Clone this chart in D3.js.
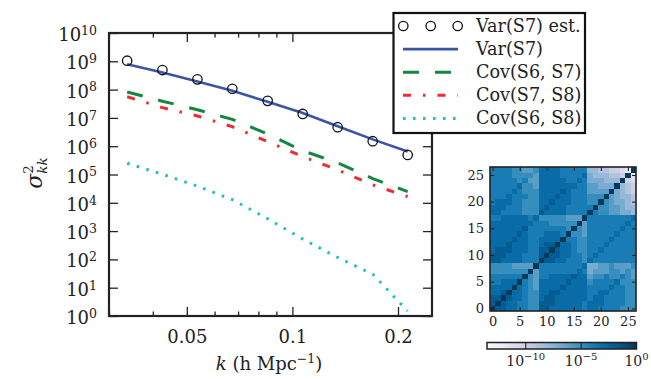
<!DOCTYPE html>
<html>
<head>
<meta charset="utf-8">
<script src="https://cdn.jsdelivr.net/npm/d3@7"></script>
<style>
  body { margin: 0; background: #fff; }
  svg { display: block; }
  text { font-family: "DejaVu Serif", serif; fill: #222; }
</style>
</head>
<body>
<svg id="chart" width="651" height="379"></svg>
<script>
// k bins (h/Mpc)
const kValues = [0.0338, 0.0426, 0.0536, 0.0674, 0.085, 0.107, 0.1346, 0.1694, 0.2131];

// series
const varEst  = [1.05e9, 4.9e8, 2.3e8, 1.07e8, 4.0e7, 1.38e7, 4.7e6, 1.5e6, 4.9e5];
const varS7   = [7.9e8, 4.0e8, 1.95e8, 9.1e7, 3.7e7, 1.5e7, 5.1e6, 1.74e6, 6.5e5];
const covS6S7 = [8.2e7, 3.9e7, 1.95e7, 8.9e6, 2.7e6, 6.9e5, 2.6e5, 7.2e4, 2.5e4];
const covS7S8 = [5.6e7, 2.3e7, 1.17e7, 4.9e6, 1.45e6, 4.3e5, 1.45e5, 4.3e4, 1.66e4];
const covS6S8 = [2.5e5, 1.02e5, 3.9e4, 1.29e4, 2.75e3, 525, 117, 30, 1.5];

const legendLabels = ["Var(S7) est.", "Var(S7)", "Cov(S6, S7)", "Cov(S7, S8)", "Cov(S6, S8)"];
const xTickValues = [0.05, 0.1, 0.2];
const xTickLabels = ["0.05", "0.1", "0.2"];
const yTickExps = [0, 1, 2, 3, 4, 5, 6, 7, 8, 9, 10];

// inset matrix, row 0 first (bottom row). each char = -log10(value), base 36
const matrixRows = [
  "022334455" + "223333334" + "334444555",
  "202334455" + "222333334" + "333444455",
  "220233455" + "322333333" + "433444455",
  "332033455" + "332233333" + "443344455",
  "333303456" + "333323333" + "444434455",
  "443330456" + "333332333" + "544443555",
  "444444056" + "443333233" + "655455456",
  "555555506" + "444444434" + "766655656",
  "555566660" + "444444443" + "776656665",
  "223333444" + "022334445" + "344444444",
  "222333444" + "202233445" + "434444444",
  "322233344" + "220233455" + "443444444",
  "333233344" + "322033455" + "444344444",
  "333323344" + "333304455" + "444434444",
  "333332344" + "433340556" + "444443444",
  "333333244" + "444445056" + "444444344",
  "333333334" + "445555506" + "444444434",
  "443333343" + "555556660" + "444444443",
  "334444555" + "233334444" + "045566778",
  "333444555" + "323334444" + "405566788",
  "433344555" + "332333444" + "550567789",
  "444344455" + "333233444" + "555067889",
  "444434555" + "333323444" + "66660789a",
  "444443556" + "333333344" + "66777089a",
  "444445466" + "333334434" + "7778880ab",
  "444455556" + "333344443" + "788899a0c",
  "444455665" + "333344444" + "8899aabc0"
];
const matrixTicks = [0, 5, 10, 15, 20, 25];
const colorbarTickExps = [-10, -5, 0];
const colorMinExp = -13.5;

const svg = d3.select("#chart");
const ink = "#222";

// ---------- main panel ----------
const plot = { left: 109, right: 432, top: 33, bottom: 316 };
const x = d3.scaleLog().domain([0.03, 0.25]).range([plot.left, plot.right]);
const y = d3.scaleLog().domain([1, 1e10]).range([plot.bottom, plot.top]);

const xMinor = x.ticks().filter(v => !xTickValues.some(m => Math.abs(m - v) < 1e-9));
const yMinor = y.ticks().filter(v => !yTickExps.some(e => Math.abs(Math.log10(v) - e) < 1e-9));
const yMajor = yTickExps.map(e => Math.pow(10, e));

svg.append("defs").append("clipPath").attr("id", "plotClip")
  .append("rect").attr("x", plot.left).attr("y", plot.top)
  .attr("width", plot.right - plot.left).attr("height", plot.bottom - plot.top);

function styleAxis(g) {
  g.select(".domain").remove();
  g.selectAll("line").attr("stroke", ink).attr("stroke-width", 1.3);
}

// bottom
svg.append("g").attr("transform", `translate(0,${plot.bottom})`)
  .call(d3.axisBottom(x).tickValues(xTickValues).tickSizeInner(-9).tickSizeOuter(0).tickPadding(14)
    .tickFormat((d, i) => xTickLabels[i]))
  .call(styleAxis)
  .call(g => g.selectAll("text").attr("font-size", 18).attr("font-family", "DejaVu Serif").attr("fill", ink));
svg.append("g").attr("transform", `translate(0,${plot.bottom})`)
  .call(d3.axisBottom(x).tickValues(xMinor).tickSizeInner(-4.5).tickSizeOuter(0).tickFormat(""))
  .call(styleAxis);
// top
svg.append("g").attr("transform", `translate(0,${plot.top})`)
  .call(d3.axisTop(x).tickValues(xTickValues).tickSizeInner(-9).tickSizeOuter(0).tickFormat(""))
  .call(styleAxis);
svg.append("g").attr("transform", `translate(0,${plot.top})`)
  .call(d3.axisTop(x).tickValues(xMinor).tickSizeInner(-4.5).tickSizeOuter(0).tickFormat(""))
  .call(styleAxis);
// left
svg.append("g").attr("transform", `translate(${plot.left},0)`)
  .call(d3.axisLeft(y).tickValues(yMajor).tickSizeInner(-9).tickSizeOuter(0).tickPadding(12))
  .call(styleAxis)
  .call(g => g.selectAll("text")
    .attr("font-size", 18).attr("font-family", "DejaVu Serif").attr("fill", ink).attr("dy", "0.42em")
    .each(function (d) {
      const t = d3.select(this);
      t.text("10");
      t.append("tspan").attr("dy", "-0.5em").attr("font-size", 12.5).text(Math.round(Math.log10(d)));
    }));
svg.append("g").attr("transform", `translate(${plot.left},0)`)
  .call(d3.axisLeft(y).tickValues(yMinor).tickSizeInner(-4.5).tickSizeOuter(0).tickFormat(""))
  .call(styleAxis);
// right
svg.append("g").attr("transform", `translate(${plot.right},0)`)
  .call(d3.axisRight(y).tickValues(yMajor).tickSizeInner(-9).tickSizeOuter(0).tickFormat(""))
  .call(styleAxis);
svg.append("g").attr("transform", `translate(${plot.right},0)`)
  .call(d3.axisRight(y).tickValues(yMinor).tickSizeInner(-4.5).tickSizeOuter(0).tickFormat(""))
  .call(styleAxis);

// series
const series = [
  { values: varS7,   color: "#3b54a5", width: 2.6, dash: null },
  { values: covS6S7, color: "#13873f", width: 3,   dash: "16,16" },
  { values: covS7S8, color: "#ee2b2e", width: 3,   dash: "8,12,2.5,12" },
  { values: covS6S8, color: "#21bfc3", width: 3,   dash: "2.6,7.4" }
];
const line = d3.line().x(d => x(d[0])).y(d => y(d[1]));
const lines = svg.append("g").attr("clip-path", "url(#plotClip)");
series.forEach(s => {
  lines.append("path")
    .datum(kValues.map((k, i) => [k, s.values[i]]))
    .attr("d", line)
    .attr("fill", "none")
    .attr("stroke", s.color)
    .attr("stroke-width", s.width)
    .attr("stroke-dasharray", s.dash);
});
lines.selectAll("circle.est")
  .data(kValues.map((k, i) => [k, varEst[i]]))
  .enter().append("circle")
  .attr("class", "est")
  .attr("cx", d => x(d[0])).attr("cy", d => y(d[1])).attr("r", 4.7)
  .attr("fill", "none").attr("stroke", "#111").attr("stroke-width", 1.3);

// frame
svg.append("rect")
  .attr("x", plot.left).attr("y", plot.top)
  .attr("width", plot.right - plot.left).attr("height", plot.bottom - plot.top)
  .attr("fill", "none").attr("stroke", ink).attr("stroke-width", 2.2);

// axis labels
const yLabel = svg.append("text")
  .attr("transform", "translate(42,173) rotate(-90)")
  .attr("text-anchor", "middle");
yLabel.append("tspan").attr("font-style", "italic").attr("font-size", 22).text("σ");
yLabel.append("tspan").attr("font-size", 13.5).attr("dy", -9).text("2");
yLabel.append("tspan").attr("font-size", 13.5).attr("font-style", "italic").attr("dx", -8.5).attr("dy", 14).text("kk");

const xLabel = svg.append("text")
  .attr("x", 269).attr("y", 370)
  .attr("text-anchor", "middle").attr("font-size", 18);
xLabel.append("tspan").attr("font-style", "italic").text("k");
xLabel.append("tspan").text(" (h Mpc");
xLabel.append("tspan").attr("font-size", 12.5).attr("dy", -7).text("−1");
xLabel.append("tspan").attr("dy", 7).text(")");

// legend
const legend = svg.append("g");
legend.append("rect")
  .attr("x", 393.5).attr("y", 13).attr("width", 191.5).attr("height", 120)
  .attr("fill", "#fff").attr("stroke", "#111").attr("stroke-width", 2.2);
const rowY = i => 26 + i * 23.1;
legend.selectAll("circle")
  .data([403.3, 430.7, 457.7])
  .enter().append("circle")
  .attr("cx", d => d).attr("cy", rowY(0)).attr("r", 4.7)
  .attr("fill", "none").attr("stroke", "#111").attr("stroke-width", 1.3);
series.forEach((s, i) => {
  legend.append("line")
    .attr("x1", 403).attr("x2", 458)
    .attr("y1", rowY(i + 1)).attr("y2", rowY(i + 1))
    .attr("stroke", s.color).attr("stroke-width", s.width)
    .attr("stroke-dasharray", s.dash);
});
legend.selectAll("text")
  .data(legendLabels)
  .enter().append("text")
  .attr("x", 476).attr("y", (d, i) => rowY(i) + 6)
  .attr("font-size", 17.6)
  .text(d => d);

// ---------- inset matrix ----------
const n = matrixRows.length;
const hm = { left: 490, right: 636, top: 167, bottom: 311 };
const mx = d3.scaleLinear().domain([-0.5, n - 0.5]).range([hm.left, hm.right]);
const my = d3.scaleLinear().domain([-0.5, n - 0.5]).range([hm.bottom, hm.top]);
const color = d3.scaleSequential(d3.interpolatePuBu).domain([colorMinExp, 0]);

const cells = [];
matrixRows.forEach((row, r) => {
  row.split("").forEach((ch, c) => cells.push({ r, c, e: -parseInt(ch, 36) }));
});
svg.append("g").selectAll("rect")
  .data(cells)
  .enter().append("rect")
  .attr("x", d => mx(d.c - 0.5))
  .attr("y", d => my(d.r + 0.5))
  .attr("width", mx(1) - mx(0) + 0.3)
  .attr("height", my(0) - my(1) + 0.3)
  .attr("fill", d => color(d.e))
  .attr("shape-rendering", "crispEdges");

function hmAxis(g) {
  g.select(".domain").remove();
  g.selectAll("line").attr("stroke", ink).attr("stroke-width", 1.1);
  g.selectAll("text").attr("font-size", 13).attr("font-family", "DejaVu Serif").attr("fill", ink);
}
svg.append("g").attr("transform", `translate(0,${hm.bottom})`)
  .call(d3.axisBottom(mx).tickValues(matrixTicks).tickSizeInner(-4).tickSizeOuter(0).tickPadding(6))
  .call(hmAxis);
svg.append("g").attr("transform", `translate(0,${hm.top})`)
  .call(d3.axisTop(mx).tickValues(matrixTicks).tickSizeInner(-4).tickSizeOuter(0).tickFormat(""))
  .call(hmAxis);
svg.append("g").attr("transform", `translate(${hm.left},0)`)
  .call(d3.axisLeft(my).tickValues(matrixTicks).tickSizeInner(-4).tickSizeOuter(0).tickPadding(6))
  .call(hmAxis);
svg.append("g").attr("transform", `translate(${hm.right},0)`)
  .call(d3.axisRight(my).tickValues(matrixTicks).tickSizeInner(-4).tickSizeOuter(0).tickFormat(""))
  .call(hmAxis);
svg.append("rect")
  .attr("x", hm.left).attr("y", hm.top)
  .attr("width", hm.right - hm.left).attr("height", hm.bottom - hm.top)
  .attr("fill", "none").attr("stroke", ink).attr("stroke-width", 1.6);

// ---------- colorbar ----------
const cb = { left: 487, right: 636.5, top: 342.5, bottom: 349 };
const cbx = d3.scaleLinear().domain([colorMinExp, 0]).range([cb.left, cb.right]);
const grad = svg.select("defs").append("linearGradient").attr("id", "cbGrad");
d3.range(0, 1.0001, 0.05).forEach(t => {
  grad.append("stop").attr("offset", t).attr("stop-color", color(colorMinExp * (1 - t)));
});
svg.append("rect")
  .attr("x", cb.left).attr("y", cb.top)
  .attr("width", cb.right - cb.left).attr("height", cb.bottom - cb.top)
  .attr("fill", "url(#cbGrad)");
svg.append("g").selectAll("line")
  .data(colorbarTickExps.slice(0, -1))
  .enter().append("line")
  .attr("x1", d => cbx(d)).attr("x2", d => cbx(d))
  .attr("y1", cb.top).attr("y2", cb.bottom)
  .attr("stroke", ink).attr("stroke-width", 1.1);
svg.append("rect")
  .attr("x", cb.left).attr("y", cb.top)
  .attr("width", cb.right - cb.left).attr("height", cb.bottom - cb.top)
  .attr("fill", "none").attr("stroke", ink).attr("stroke-width", 1.5);
const cbLabels = svg.append("g").selectAll("text")
  .data(colorbarTickExps)
  .enter().append("text")
  .attr("x", d => cbx(d)).attr("y", 366)
  .attr("text-anchor", "middle").attr("font-size", 14);
cbLabels.append("tspan").text("10");
cbLabels.append("tspan").attr("dy", -6.5).attr("font-size", 10).text(d => d < 0 ? "−" + (-d) : d);
</script>
</body>
</html>
